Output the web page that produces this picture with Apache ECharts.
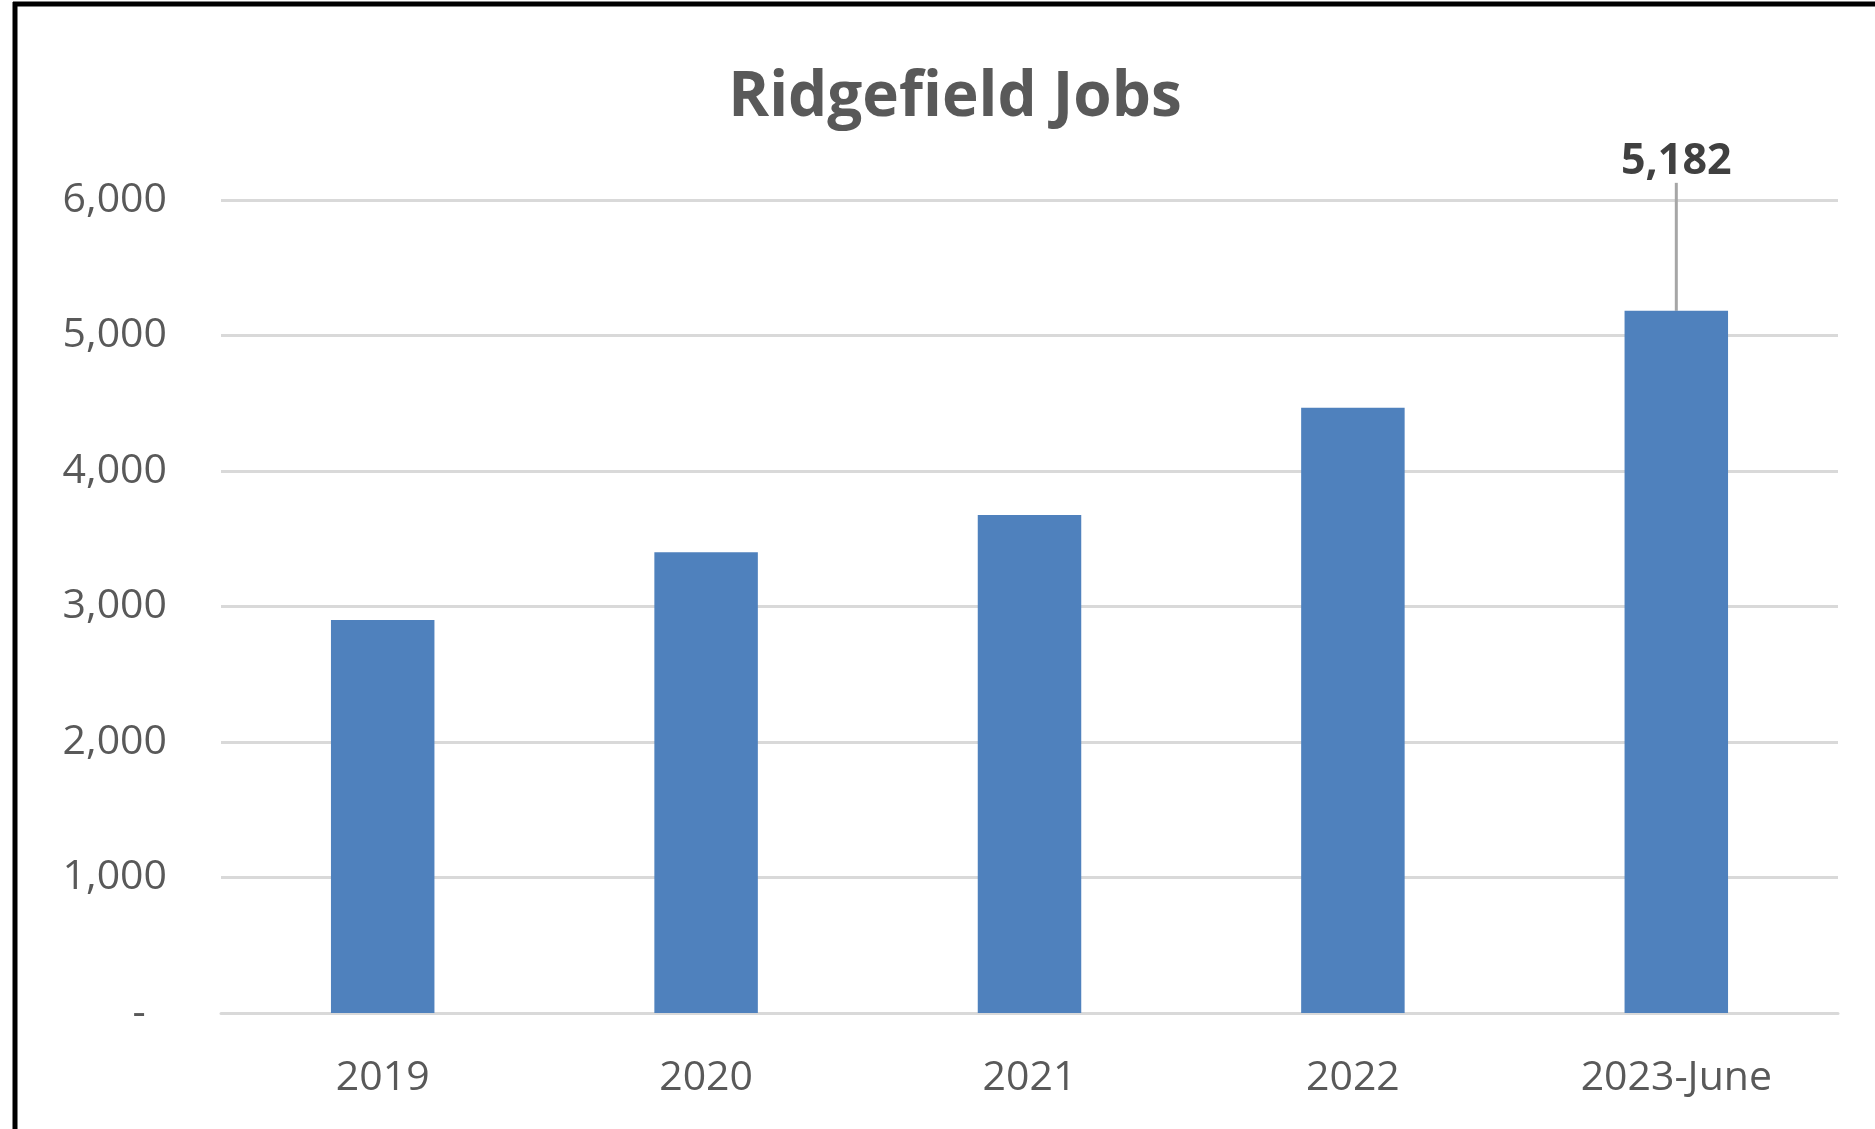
<!DOCTYPE html>
<html>
<head>
<meta charset="utf-8">
<script src="https://cdn.jsdelivr.net/npm/echarts@6/dist/echarts.min.js"></script>
<style>
html,body{margin:0;padding:0;background:#fff;}
#chart{width:1875px;height:1129px;}
</style>
</head>
<body>
<div id="chart"></div>
<script>
const titleText = 'Ridgefield Jobs';
const categories = ['2019', '2020', '2021', '2022', '2023-June'];
const jobs = [2900, 3400, 3675, 4467, 5182];
const labeledIndex = [4];
const yTicks = [0, 1000, 2000, 3000, 4000, 5000, 6000];

const chart = echarts.init(document.getElementById('chart'), null, {renderer: 'canvas'});
const fmt = v => v === 0 ? '-  ' : v.toLocaleString('en-US');

chart.setOption({
  backgroundColor: '#ffffff',
  animation: false,
  title: {
    text: titleText,
    left: 950,
    textAlign: 'center',
    top: 62,
    textStyle: {fontFamily: 'Open Sans', fontWeight: 'bold', fontSize: 62, color: '#595959'}
  },
  grid: {left: 221, right: 37, top: 200, bottom: 116},
  xAxis: {
    type: 'category',
    data: categories,
    axisLine: {lineStyle: {color: '#d9d9d9', width: 3}},
    axisTick: {show: false},
    axisLabel: {fontFamily: 'Open Sans', fontSize: 41, color: '#595959', margin: 45}
  },
  yAxis: {
    type: 'value',
    min: yTicks[0],
    max: yTicks[yTicks.length - 1],
    interval: 1000,
    axisLine: {show: false},
    axisTick: {show: false},
    splitLine: {lineStyle: {color: '#d9d9d9', width: 3}},
    axisLabel: {fontFamily: 'Open Sans', fontSize: 41, color: '#595959', margin: 54, formatter: fmt}
  },
  series: [{
    type: 'bar',
    barWidth: '32%',
    itemStyle: {color: '#4f81bd'},
    data: jobs.map((v, i) => ({
      value: v,
      label: {show: labeledIndex.includes(i)}
    })),
    label: {
      position: 'top',
      distance: 5,
      fontFamily: 'Open Sans',
      fontWeight: 'bold',
      fontSize: 43,
      color: '#404040',
      padding: [0, 0, 28, 0],
      formatter: p => p.value.toLocaleString('en-US')
    },
    labelLayout: {dy: -95},
    labelLine: {show: true, lineStyle: {color: '#a6a6a6', width: 3}}
  }],
  graphic: [
    {type: 'line', shape: {x1: 13, y1: 4, x2: 1875, y2: 4}, style: {stroke: '#000', lineWidth: 5}, z: 100},
    {type: 'line', shape: {x1: 15, y1: 2, x2: 15, y2: 1129}, style: {stroke: '#000', lineWidth: 5}, z: 100}
  ]
});
</script>
</body>
</html>
